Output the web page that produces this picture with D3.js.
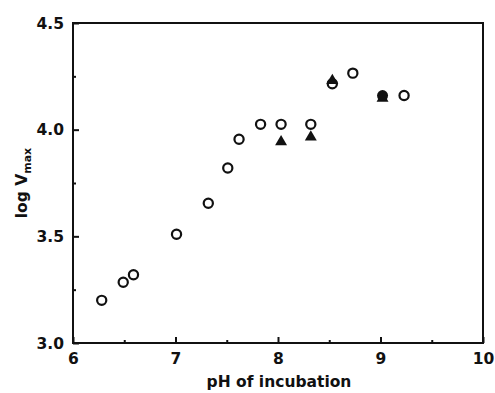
<!DOCTYPE html>
<html>
<head>
<meta charset="utf-8">
<script src="https://cdn.jsdelivr.net/npm/d3@7"></script>
<style>
  html, body { margin: 0; padding: 0; background: #fff; }
  svg { display: block; }
  text { font-family: "DejaVu Sans", "Liberation Sans", Arial, sans-serif; font-weight: bold; fill: #111; }
</style>
</head>
<body>
<script>
// Open circles
const openPH  = [6.28, 6.49, 6.59, 7.01, 7.32, 7.51, 7.62, 7.83, 8.03, 8.32, 8.53, 8.73, 9.23];
const openLog = [3.20, 3.285, 3.32, 3.51, 3.655, 3.82, 3.955, 4.025, 4.025, 4.025, 4.215, 4.265, 4.16];
// Filled circles
const filledPH  = [9.02];
const filledLog = [4.16];
// Filled triangles
const triPH  = [8.03, 8.32, 8.53, 9.02];
const triLog = [3.943, 3.965, 4.23, 4.147];

const xTicks = [6, 7, 8, 9, 10];
const xMinor = [6.5, 7.5, 8.5, 9.5];
const yTicks = [3.0, 3.5, 4.0, 4.5];
const yMinor = [3.25, 3.75, 4.25];

const W = 495, H = 393;
const m = {left: 73, right: 12, top: 23, bottom: 50};
const FS = 15.5;

const svg = d3.select("body").append("svg").attr("width", W).attr("height", H);

const x = d3.scaleLinear().domain([6, 10]).range([m.left, W - m.right]);
const y = d3.scaleLinear().domain([3.0, 4.5]).range([H - m.bottom, m.top]);

const ink = "#111";

// Frame
svg.append("rect")
  .attr("x", x(6)).attr("y", y(4.5))
  .attr("width", x(10) - x(6)).attr("height", y(3.0) - y(4.5))
  .attr("fill", "none").attr("stroke", ink).attr("stroke-width", 2);

// X axis (inward ticks)
const xAxis = d3.axisBottom(x).tickValues(xTicks).tickFormat(d3.format("d"))
  .tickSizeInner(-6).tickSizeOuter(0);
const gx = svg.append("g").attr("transform", `translate(0,${y(3.0)})`).call(xAxis);
gx.select(".domain").remove();
gx.selectAll(".tick line").attr("stroke", ink).attr("stroke-width", 2);
gx.selectAll(".tick text").attr("font-size", FS).attr("dy", null).attr("y", 21);

const gxm = svg.append("g").attr("transform", `translate(0,${y(3.0)})`)
  .call(d3.axisBottom(x).tickValues(xMinor).tickFormat("").tickSizeInner(-3).tickSizeOuter(0));
gxm.select(".domain").remove();
gxm.selectAll(".tick line").attr("stroke", ink).attr("stroke-width", 2);

// Y axis (inward ticks)
const yAxis = d3.axisLeft(y).tickValues(yTicks).tickFormat(d3.format(".1f"))
  .tickSizeInner(-6).tickSizeOuter(0);
const gy = svg.append("g").attr("transform", `translate(${x(6)},0)`).call(yAxis);
gy.select(".domain").remove();
gy.selectAll(".tick line").attr("stroke", ink).attr("stroke-width", 2);
gy.selectAll(".tick text").attr("font-size", FS).attr("x", -9).attr("dy", "0.33em");

const gym = svg.append("g").attr("transform", `translate(${x(6)},0)`)
  .call(d3.axisLeft(y).tickValues(yMinor).tickFormat("").tickSizeInner(-3).tickSizeOuter(0));
gym.select(".domain").remove();
gym.selectAll(".tick line").attr("stroke", ink).attr("stroke-width", 2);

// Axis titles
svg.append("text")
  .attr("x", (x(6) + x(10)) / 2 + 1).attr("y", 387)
  .attr("text-anchor", "middle").attr("font-size", FS)
  .text("pH of incubation");

const yl = svg.append("text")
  .attr("transform", `translate(27,${(y(3.0) + y(4.5)) / 2}) rotate(-90)`)
  .attr("text-anchor", "middle").attr("font-size", FS);
yl.append("tspan").text("log ");
yl.append("tspan").text("V");
yl.append("tspan").attr("font-size", 11).attr("dy", 4).text("max");

// Data marks
const plot = svg.append("g");

plot.selectAll("circle.open")
  .data(openPH.map((p, i) => [p, openLog[i]]))
  .join("circle").attr("class", "open")
  .attr("cx", d => x(d[0])).attr("cy", d => y(d[1])).attr("r", 4.6)
  .attr("fill", "none").attr("stroke", ink).attr("stroke-width", 2.2);

plot.selectAll("path.tri")
  .data(triPH.map((p, i) => [p, triLog[i]]))
  .join("path").attr("class", "tri")
  .attr("transform", d => `translate(${x(d[0])},${y(d[1])})`)
  .attr("d", d3.symbol(d3.symbolTriangle, 62)())
  .attr("fill", ink);

plot.selectAll("circle.filled")
  .data(filledPH.map((p, i) => [p, filledLog[i]]))
  .join("circle").attr("class", "filled")
  .attr("cx", d => x(d[0])).attr("cy", d => y(d[1])).attr("r", 5.5)
  .attr("fill", ink);
</script>
</body>
</html>
